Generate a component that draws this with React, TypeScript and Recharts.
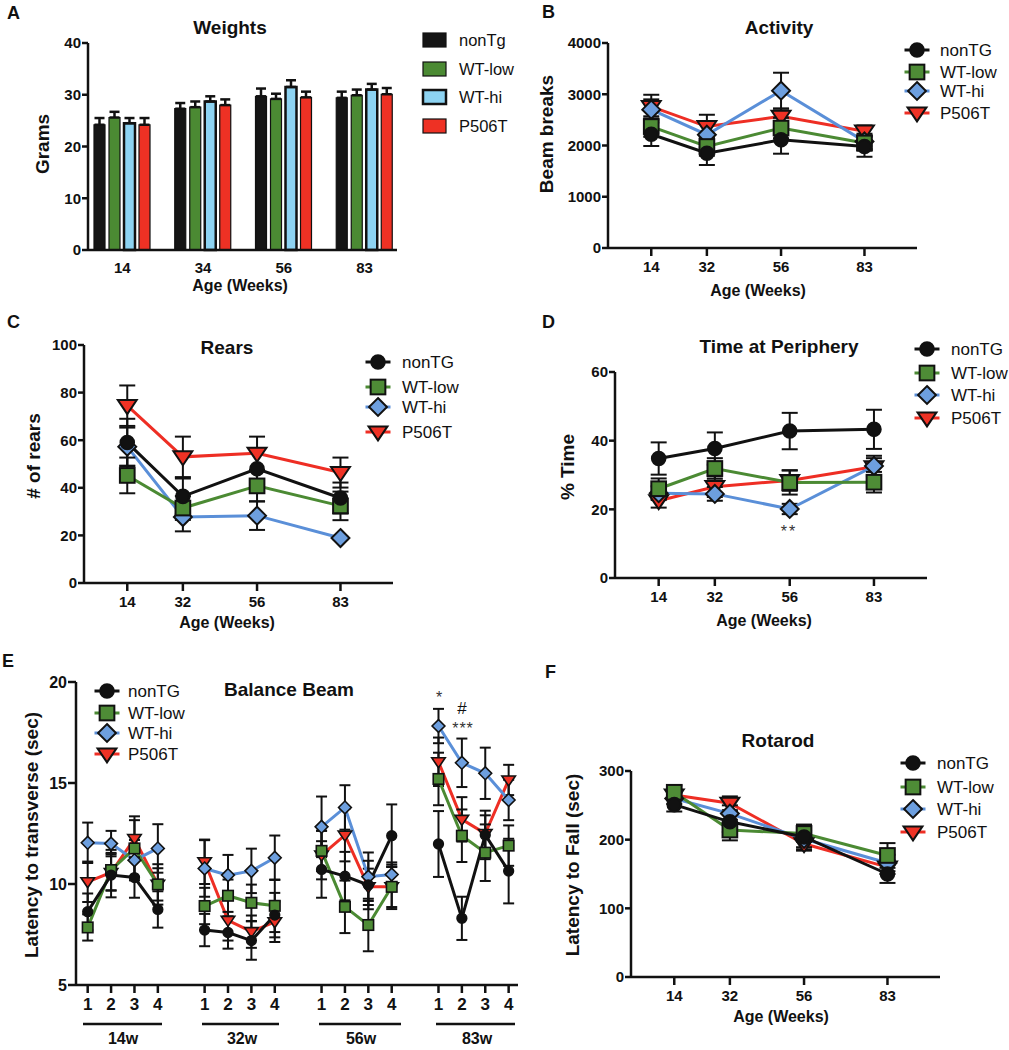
import React from 'react'
import { BarChart, Bar, LineChart, Line, XAxis, YAxis, ErrorBar } from 'recharts'

const FONT = '"Liberation Sans", Arial, Helvetica, sans-serif'
const INK = '#111111'

const SERIES = ['nonTG', 'wtLow', 'wtHi', 'p506t'] as const
type Key = (typeof SERIES)[number]
const LEGEND_NAMES: Record<Key, string> = { nonTG: 'nonTG', wtLow: 'WT-low', wtHi: 'WT-hi', p506t: 'P506T' }
const LINE_COLORS: Record<Key, string> = { nonTG: '#111111', wtLow: '#4b8a33', wtHi: '#5a8fd8', p506t: '#ee2e24' }
const MARKER_FILL: Record<Key, string> = { nonTG: '#111111', wtLow: '#4e8c36', wtHi: '#6d9fdf', p506t: '#ef3225' }
const BAR_FILL: Record<Key, string> = { nonTG: '#151515', wtLow: '#4b8a33', wtHi: '#8dd3f2', p506t: '#ee3124' }
const SHAPES: Record<Key, string> = { nonTG: 'circle', wtLow: 'square', wtHi: 'diamond', p506t: 'triangle' }
// GraphPad draws the first data set on top
const DRAW_ORDER: Key[] = ['p506t', 'wtHi', 'wtLow', 'nonTG']

// ---- A: Weights (grams) ----
const weightAges = ['14', '34', '56', '83']
const weightNonTg = [24.2, 27.3, 29.7, 29.4]
const weightWtLow = [25.6, 27.6, 29.2, 29.9]
const weightWtHi = [24.5, 28.7, 31.5, 31.0]
const weightP506T = [24.2, 28.0, 29.5, 30.1]
const weightNonTgErr = [1.3, 1.1, 1.5, 1.2]
const weightWtLowErr = [1.1, 1.1, 1.0, 1.1]
const weightWtHiErr = [1.0, 1.0, 1.3, 1.1]
const weightP506TErr = [1.3, 1.1, 1.1, 1.2]

// ---- shared x for B, C, D, F ----
const ageWeeks = [14, 32, 56, 83]

// ---- B: Activity (beam breaks) ----
const activityNonTG = [2220, 1850, 2110, 1980]
const activityWtLow = [2370, 1980, 2340, 2050]
const activityWtHi = [2700, 2210, 3070, 2080]
const activityP506T = [2760, 2370, 2570, 2280]
const activityNonTGErr = [230, 230, 270, 200]
const activityWtLowErr = [200, 180, 200, 150]
const activityWtHiErr = [200, 250, 350, 150]
const activityP506TErr = [230, 230, 150, 110]

// ---- C: Rears ----
const rearsNonTG = [59, 36.4, 48, 35.7]
const rearsWtLow = [45.2, 31.5, 40.8, 32.4]
const rearsWtHi = [57.3, 27.7, 28.3, 18.9]
const rearsP506T = [74.5, 53, 54.5, 46.4]
const rearsNonTGErr = [10, 7.5, 8, 6.5]
const rearsWtLowErr = [7.5, 5, 6.5, 6]
const rearsWtHiErr = [8, 6, 6, 0.5]
const rearsP506TErr = [8.5, 8.5, 7, 6.3]

// ---- D: Time at periphery (%) ----
const periNonTG = [34.8, 37.7, 42.8, 43.3]
const periWtLow = [26, 31.9, 27.8, 27.9]
const periWtHi = [24.7, 24.5, 20.1, 32.6]
const periP506T = [22.5, 26.6, 28.4, 32.4]
const periNonTGErr = [4.7, 4.7, 5.3, 5.7]
const periWtLowErr = [3, 3, 3.5, 3]
const periWtHiErr = [2, 2, 1.5, 3]
const periP506TErr = [2, 3, 3, 2.5]

// ---- E: Balance beam (sec), trials 1-4 at 14w, 32w, 56w, 83w ----
const beamSlots = [1, 2, 3, 4, 6, 7, 8, 9, 11, 12, 13, 14, 16, 17, 18, 19]
const beamGroups = ['14w', '32w', '56w', '83w']
const beamNonTG = [8.63, 10.44, 10.32, 8.74, 7.72, 7.6, 7.2, 8.46, 10.72, 10.39, 9.95, 12.39, 11.98, 8.3, 12.43, 10.64]
const beamWtLow = [7.85, 10.69, 11.76, 9.98, 8.91, 9.42, 9.07, 8.92, 11.64, 8.87, 7.97, 9.86, 15.2, 12.39, 11.55, 11.9]
const beamWtHi = [12.04, 12.0, 11.18, 11.76, 10.77, 10.44, 10.65, 11.3, 12.83, 13.79, 10.36, 10.47, 17.82, 16.0, 15.48, 14.16]
const beamP506T = [10.11, 10.57, 12.25, 9.98, 11.1, 8.2, 7.64, 8.13, 11.43, 12.42, 9.86, 9.86, 16.05, 13.2, 12.5, 15.15]
const beamNonTGErr = [0.9, 1.1, 1.0, 0.9, 0.8, 0.8, 0.95, 1.1, 1.4, 1.2, 1.2, 1.55, 1.63, 1.07, 1.2, 1.6]
const beamWtLowErr = [0.65, 1.0, 1.4, 1.0, 0.9, 0.8, 0.9, 1.3, 1.0, 1.3, 1.3, 1.1, 1.3, 1.3, 1.4, 1.0]
const beamWtHiErr = [1.0, 0.63, 1.0, 1.2, 1.4, 1.0, 1.1, 1.1, 1.5, 1.1, 1.2, 0.6, 0.85, 1.2, 1.27, 1.0]
const beamP506TErr = [1.0, 0.9, 1.1, 0.8, 1.1, 1.0, 0.8, 1.0, 1.2, 1.3, 0.9, 1.0, 1.2, 1.1, 0.9, 0.75]

// ---- F: Rotarod (sec) ----
const rotaNonTG = [251, 226, 204, 150]
const rotaWtLow = [269, 214, 209, 177]
const rotaWtHi = [260, 238, 201, 166]
const rotaP506T = [265, 253, 194, 160]
const rotaNonTGErr = [10, 15, 18, 13]
const rotaWtLowErr = [10, 15, 12, 18]
const rotaWtHiErr = [8, 12, 12, 12]
const rotaP506TErr = [8, 10, 10, 10]

type Row = Record<string, any>

function weekRows(vals: number[][], errs: number[][]): Row[] {
  return ageWeeks.map((w, i) => {
    const row: Row = { x: w }
    SERIES.forEach((k, s) => {
      row[k] = vals[s][i]
      row[k + 'Err'] = errs[s][i]
    })
    return row
  })
}

const weightRows: Row[] = weightAges.map((age, i) => {
  const vals = [weightNonTg, weightWtLow, weightWtHi, weightP506T]
  const errs = [weightNonTgErr, weightWtLowErr, weightWtHiErr, weightP506TErr]
  const row: Row = { age }
  SERIES.forEach((k, s) => {
    row[k] = vals[s][i]
    row[k + 'Err'] = [0, errs[s][i]] // GraphPad draws only the upper half
  })
  return row
})

const activityRows = weekRows(
  [activityNonTG, activityWtLow, activityWtHi, activityP506T],
  [activityNonTGErr, activityWtLowErr, activityWtHiErr, activityP506TErr]
)
const rearsRows = weekRows(
  [rearsNonTG, rearsWtLow, rearsWtHi, rearsP506T],
  [rearsNonTGErr, rearsWtLowErr, rearsWtHiErr, rearsP506TErr]
)
const periRows = weekRows(
  [periNonTG, periWtLow, periWtHi, periP506T],
  [periNonTGErr, periWtLowErr, periWtHiErr, periP506TErr]
)
const rotaRows = weekRows(
  [rotaNonTG, rotaWtLow, rotaWtHi, rotaP506T],
  [rotaNonTGErr, rotaWtLowErr, rotaWtHiErr, rotaP506TErr]
)

// balance beam: one row per slot, empty slots break the lines between ages
const beamRows: Row[] = []
{
  const vals = [beamNonTG, beamWtLow, beamWtHi, beamP506T]
  const errs = [beamNonTGErr, beamWtLowErr, beamWtHiErr, beamP506TErr]
  for (let x = 1; x <= 19; x++) {
    const i = beamSlots.indexOf(x)
    const row: Row = { x }
    SERIES.forEach((k, s) => {
      row[k] = i >= 0 ? vals[s][i] : null
      if (i >= 0) row[k + 'Err'] = errs[s][i]
    })
    beamRows.push(row)
  }
}

function Marker({ shape, cx, cy, size, fill }: { shape: string; cx?: number; cy?: number; size: number; fill: string }) {
  if (cx == null || cy == null || Number.isNaN(cx) || Number.isNaN(cy)) return null
  const sw = size > 6 ? 2 : 1.6
  if (shape === 'circle') return <circle cx={cx} cy={cy} r={size * 0.97} fill={fill} stroke={INK} strokeWidth={sw} />
  if (shape === 'square') {
    const h = size * 1.05
    return <rect x={cx - h} y={cy - h} width={2 * h} height={2 * h} fill={fill} stroke={INK} strokeWidth={sw} />
  }
  if (shape === 'diamond') {
    const d = size * 1.28
    return (
      <polygon
        points={`${cx},${cy - d} ${cx + d},${cy} ${cx},${cy + d} ${cx - d},${cy}`}
        fill={fill}
        stroke={INK}
        strokeWidth={sw}
      />
    )
  }
  return (
    <polygon
      points={`${cx - size * 1.35},${cy - size * 0.8} ${cx + size * 1.35},${cy - size * 0.8} ${cx},${cy + size * 1.2}`}
      fill={fill}
      stroke={INK}
      strokeWidth={sw}
      strokeLinejoin="miter"
    />
  )
}

const axisLine = { stroke: INK, strokeWidth: 2.5 }
const tickLine = { stroke: INK, strokeWidth: 2.5 }

interface LinePanelProps {
  box: [number, number, number, number]
  rows: Row[]
  xDomain: [number, number]
  xTicks: number[]
  xFormat?: (v: number) => string
  yDomain: [number, number]
  yTicks: number[]
  small?: boolean
}

function LinePanel({ box, rows, xDomain, xTicks, xFormat, yDomain, yTicks, small }: LinePanelProps) {
  const [x0, y0, x1, y1] = box
  const tickFont = small ? 17 : 15
  const size = small ? 5 : 7
  return (
    <div style={{ position: 'absolute', left: x0 - 60, top: y0 - 10 }}>
      <LineChart
        width={x1 - x0 + 70}
        height={y1 - y0 + 50}
        data={rows}
        margin={{ top: 10, right: 10, left: 0, bottom: 10 }}
      >
        <XAxis
          type="number"
          dataKey="x"
          domain={xDomain}
          ticks={xTicks}
          interval={0}
          allowDataOverflow
          tickFormatter={xFormat}
          height={30}
          axisLine={axisLine}
          tickLine={tickLine}
          tickSize={8}
          tickMargin={5}
          tick={{ fill: INK, fontSize: tickFont, fontWeight: 700, fontFamily: FONT }}
        />
        <YAxis
          type="number"
          domain={yDomain}
          ticks={yTicks}
          interval={0}
          allowDataOverflow
          width={60}
          axisLine={axisLine}
          tickLine={tickLine}
          tickSize={small ? 8 : 6}
          tickMargin={1}
          tick={{ fill: INK, fontSize: small ? 16 : 15, fontWeight: 700, fontFamily: FONT }}
        />
        {DRAW_ORDER.map((k) => (
          <Line
            key={k}
            type="linear"
            dataKey={k}
            stroke={LINE_COLORS[k]}
            strokeWidth={3}
            isAnimationActive={false}
            connectNulls={false}
            activeDot={false}
            dot={(p: any) => (
              <g key={`${k}-${p.index}`}>
                <Marker shape={SHAPES[k]} cx={p.cx} cy={p.cy} size={size} fill={MARKER_FILL[k]} />
              </g>
            )}
          >
            <ErrorBar dataKey={k + 'Err'} direction="y" width={small ? 5.5 : 8} stroke={INK} strokeWidth={2} />
          </Line>
        ))}
      </LineChart>
    </div>
  )
}

function WeightsPanel() {
  const [x0, y0, x1, y1] = [88, 43, 397, 250]
  return (
    <div style={{ position: 'absolute', left: x0 - 60, top: y0 - 10 }}>
      <BarChart
        width={x1 - x0 + 70}
        height={y1 - y0 + 50}
        data={weightRows}
        margin={{ top: 10, right: 10, left: 0, bottom: 10 }}
        barSize={11}
        barGap={4}
      >
        <XAxis
          dataKey="age"
          interval={0}
          padding={{ left: -6, right: -8 }}
          height={30}
          axisLine={axisLine}
          tickLine={false}
          tickSize={8}
          tickMargin={4}
          tick={{ fill: INK, fontSize: 15, fontWeight: 700, fontFamily: FONT }}
        />
        <YAxis
          type="number"
          domain={[0, 40]}
          ticks={[0, 10, 20, 30, 40]}
          interval={0}
          width={60}
          axisLine={axisLine}
          tickLine={tickLine}
          tickSize={6}
          tickMargin={1}
          tick={{ fill: INK, fontSize: 15, fontWeight: 700, fontFamily: FONT }}
        />
        {SERIES.map((k) => (
          <Bar
            key={k}
            dataKey={k}
            fill={BAR_FILL[k]}
            stroke={INK}
            strokeWidth={k === 'wtHi' ? 2.5 : 1.2}
            isAnimationActive={false}
          >
            <ErrorBar dataKey={k + 'Err'} direction="y" width={5} stroke={INK} strokeWidth={2.5} />
          </Bar>
        ))}
      </BarChart>
    </div>
  )
}

function LegendLines({ x, ys, textX, fontSize = 17 }: { x: number; ys: number[]; textX: number; fontSize?: number }) {
  return (
    <g>
      {SERIES.map((k, i) => (
        <g key={k}>
          <line x1={x - 12.5} x2={x + 12.5} y1={ys[i]} y2={ys[i]} stroke={LINE_COLORS[k]} strokeWidth={3} />
          <Marker shape={SHAPES[k]} cx={x} cy={ys[i]} size={7} fill={MARKER_FILL[k]} />
          <text x={textX} y={ys[i] + 6} fontSize={fontSize} fill={INK}>
            {LEGEND_NAMES[k]}
          </text>
        </g>
      ))}
    </g>
  )
}

function YLabel({ x, y, text }: { x: number; y: number; text: string }) {
  return (
    <text x={x} y={y} transform={`rotate(-90 ${x} ${y})`} textAnchor="middle" fontSize={19} fontWeight={700} fill={INK}>
      {text}
    </text>
  )
}

function Title({ x, y, text, size = 19 }: { x: number; y: number; text: string; size?: number }) {
  return (
    <text x={x} y={y} textAnchor="middle" fontSize={size} fontWeight={700} fill={INK}>
      {text}
    </text>
  )
}

function Overlay() {
  const weightLegendYs = [40, 69, 97, 126]
  const weightNames = ['nonTg', 'WT-low', 'WT-hi', 'P506T']
  const beamLines: [number, number, number][] = [
    [83, 162, 123],
    [202, 279, 242],
    [319, 401, 361],
    [436, 515, 477],
  ]
  return (
    <svg
      width={1009}
      height={1050}
      style={{ position: 'absolute', left: 0, top: 0, pointerEvents: 'none', fontFamily: FONT }}
    >
      {/* panel letters */}
      <text x={7} y={19} fontSize={18} fontWeight={700} fill={INK}>A</text>
      <text x={542} y={18} fontSize={18} fontWeight={700} fill={INK}>B</text>
      <text x={7} y={328} fontSize={18} fontWeight={700} fill={INK}>C</text>
      <text x={542} y={328} fontSize={18} fontWeight={700} fill={INK}>D</text>
      <text x={2} y={667} fontSize={18} fontWeight={700} fill={INK}>E</text>
      <text x={545} y={678} fontSize={18} fontWeight={700} fill={INK}>F</text>

      {/* titles */}
      <Title x={230} y={34} text="Weights" />
      <Title x={779} y={34} text="Activity" />
      <Title x={227} y={354} text="Rears" />
      <Title x={779} y={353} text="Time at Periphery" />
      <Title x={289} y={696} text="Balance Beam" />
      <Title x={778} y={747} text="Rotarod" />

      {/* axis titles */}
      <YLabel x={49} y={144} text="Grams" />
      <YLabel x={553} y={134} text="Beam breaks" />
      <YLabel x={40} y={456} text="# of rears" />
      <YLabel x={574} y={467} text="% Time" />
      <YLabel x={38} y={835} text="Latency to transverse (sec)" />
      <YLabel x={579} y={865} text="Latency to Fall (sec)" />
      <Title x={240} y={291} text="Age (Weeks)" size={16} />
      <Title x={758} y={296} text="Age (Weeks)" size={16} />
      <Title x={227} y={628} text="Age (Weeks)" size={16} />
      <Title x={764} y={626} text="Age (Weeks)" size={16} />
      <Title x={781} y={1022} text="Age (Weeks)" size={16} />

      {/* legend A */}
      {SERIES.map((k, i) => (
        <g key={k}>
          <rect
            x={423}
            y={weightLegendYs[i] - 7}
            width={23}
            height={14}
            fill={BAR_FILL[k]}
            stroke={INK}
            strokeWidth={k === 'wtHi' ? 2.5 : 1.2}
          />
          <text x={459} y={weightLegendYs[i] + 6} fontSize={16.5} fill={INK}>
            {weightNames[i]}
          </text>
        </g>
      ))}

      <LegendLines x={917} ys={[50, 72, 91, 113]} textX={940} />
      <LegendLines x={378} ys={[362, 387, 407, 432]} textX={402} />
      <LegendLines x={927} ys={[349, 373, 395, 418]} textX={951} />
      <LegendLines x={107} ys={[691, 713, 733, 754]} textX={128} />
      <LegendLines x={913} ys={[763, 787, 809, 832]} textX={937} />

      {/* significance marks */}
      <text x={789} y={537} textAnchor="middle" fontSize={16} fill="#333" letterSpacing={2}>**</text>
      <text x={439} y={703} textAnchor="middle" fontSize={16} fill="#333">*</text>
      <text x={462} y={714} textAnchor="middle" fontSize={17} fill={INK}>#</text>
      <text x={463} y={734} textAnchor="middle" fontSize={16} fill="#333" letterSpacing={1}>***</text>

      {/* balance beam age groups */}
      {beamLines.map(([a, b, c], i) => (
        <g key={beamGroups[i]}>
          <line x1={a} x2={b} y1={1024} y2={1024} stroke={INK} strokeWidth={2.5} />
          <text x={c} y={1044} textAnchor="middle" fontSize={16} fontWeight={700} fill={INK}>
            {beamGroups[i]}
          </text>
        </g>
      ))}
    </svg>
  )
}

export default function App() {
  return (
    <div
      style={{
        position: 'absolute',
        left: 0,
        top: 0,
        width: 1009,
        height: 1050,
        background: '#fff',
        fontFamily: FONT,
        overflow: 'hidden',
      }}
    >
      <WeightsPanel />
      <LinePanel
        box={[608, 43, 917, 248]}
        rows={activityRows}
        xDomain={[0, 100]}
        xTicks={ageWeeks}
        yDomain={[0, 4000]}
        yTicks={[0, 1000, 2000, 3000, 4000]}
      />
      <LinePanel
        box={[84, 345, 393, 583]}
        rows={rearsRows}
        xDomain={[0, 100]}
        xTicks={ageWeeks}
        yDomain={[0, 100]}
        yTicks={[0, 20, 40, 60, 80, 100]}
      />
      <LinePanel
        box={[615, 372, 927, 578]}
        rows={periRows}
        xDomain={[0, 100]}
        xTicks={ageWeeks}
        yDomain={[0, 60]}
        yTicks={[0, 20, 40, 60]}
      />
      <LinePanel
        box={[76, 682, 518, 985]}
        rows={beamRows}
        xDomain={[0.5, 19.4]}
        xTicks={beamSlots}
        xFormat={(v: number) => String(((v - 1) % 5) + 1)}
        yDomain={[5, 20]}
        yTicks={[5, 10, 15, 20]}
        small
      />
      <LinePanel
        box={[631, 771, 940, 977]}
        rows={rotaRows}
        xDomain={[0, 100]}
        xTicks={ageWeeks}
        yDomain={[0, 300]}
        yTicks={[0, 100, 200, 300]}
      />
      <Overlay />
    </div>
  )
}
